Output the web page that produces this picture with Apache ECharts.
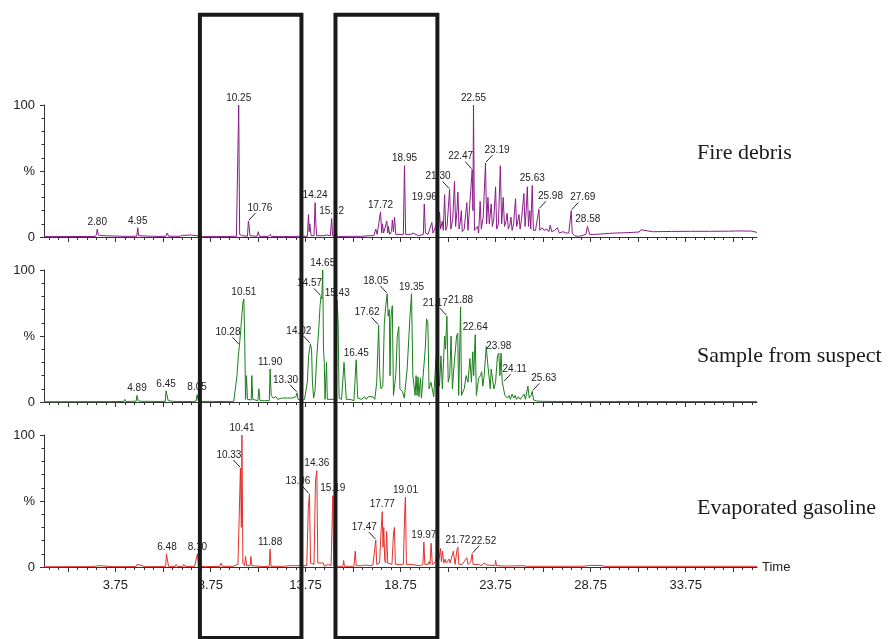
<!DOCTYPE html>
<html>
<head>
<meta charset="utf-8">
<script src="https://cdn.jsdelivr.net/npm/echarts@6/dist/echarts.min.js"></script>
<style>
html,body{margin:0;padding:0;background:#fff;}
#chart{width:889px;height:639px;}
</style>
</head>
<body>
<div id="chart"></div>
<script>
// ---------------- DATA ----------------
const panelNames = ["Fire debris", "Sample from suspect", "Evaporated gasoline"];
const yTickLabels = {0: "0", 50: "%", 100: "100"};
const xLabelTicks = [3.75, 8.75, 13.75, 18.75, 23.75, 28.75, 33.75];
const xMajorTicks = [1.25, 3.75, 6.25, 8.75, 11.25, 13.75, 16.25, 18.75, 21.25, 23.75, 26.25, 28.75, 31.25, 33.75, 36.25];
const boxRanges = [[8.2, 13.54], [15.33, 20.69]];

// chromatogram traces: [retention time (min), relative intensity (%)]
const fireDebris = [
[0,0.3],[2.70,0.4],[2.76,2],[2.80,6],[2.86,1.5],[2.95,0.5],[3.05,1],[3.1,0.4],
[4.3,0.5],[4.4,1],[4.5,0.5],[4.88,0.6],[4.93,7],[4.98,1],[5.05,0.4],[5.55,0.6],[5.63,2],[5.70,0.6],
[6.0,0.4],[6.4,0.5],[6.48,3],[6.55,0.6],[6.9,0.5],[7.0,1.5],[7.1,0.5],[7.3,1.2],[7.4,0.4],[7.7,1.5],[7.8,0.4],
[8.4,0.4],[8.95,0.5],[9.0,2],[9.08,0.4],[9.6,0.4],[10.0,0.5],[10.05,1.5],[10.12,0.5],[10.2,1],
[10.24,100],[10.29,2],[10.4,1],[10.45,2],[10.5,0.5],[10.7,0.6],[10.75,12],[10.79,8],[10.83,1],
[11.2,0.5],[11.27,4],[11.33,0.5],[11.8,0.4],[11.9,2],[11.96,0.4],[12.4,0.4],[12.5,1],[12.55,0.3],
[12.9,0.4],[13.0,0.8],[13.1,0.4],[13.4,0.6],[13.5,0.3],[13.85,0.5],[13.91,17],[13.95,4],[13.98,10],
[14.05,1],[14.2,1],[14.26,26],[14.3,10],[14.34,1],[14.7,1],[14.8,2.5],[14.9,1.5],[15.0,3],[15.06,1],
[15.13,14],[15.18,1],[15.5,0.4],[16.1,0.5],[16.14,2],[16.2,0.5],[16.7,0.5],[16.74,2],[16.8,1],
[17.1,1],[17.2,2],[17.35,1],[17.45,6],[17.52,2],[17.6,2],[17.7,19],[17.76,3],[17.8,10],[17.86,3],
[17.95,4],[18.03,12],[18.08,3],[18.12,8],[18.18,2],[18.28,4],[18.32,13],[18.38,4],[18.44,15],[18.5,2],
[18.9,2],[18.96,54],[19.02,2],[19.3,2],[19.41,3],[19.5,2],[19.7,1],[19.95,2],[20.0,25],[20.06,3],
[20.2,2],[20.3,3],[20.4,11],[20.46,3],[20.55,6],[20.65,10],[20.75,4],[20.8,19],[20.86,6],[20.95,12],
[21.0,5],[21.07,32],[21.13,5],[21.2,8],[21.33,36],[21.4,6],[21.5,14],[21.59,42],[21.65,8],[21.72,20],
[21.77,34],[21.83,6],[21.9,12],[21.95,20],[22.0,4],[22.1,6],[22.24,26],[22.3,5],[22.4,4],[22.52,51],
[22.56,20],[22.59,100],[22.64,5],[22.72,4],[22.8,8],[22.86,3],[22.94,27],[23.0,6],[23.1,15],[23.22,56],
[23.28,10],[23.35,30],[23.42,10],[23.52,25],[23.58,8],[23.66,14],[23.75,38],[23.81,6],[23.9,10],
[24.0,54],[24.07,10],[24.15,30],[24.22,8],[24.3,12],[24.36,18],[24.42,6],[24.5,9],[24.56,15],[24.62,5],
[24.7,10],[24.8,29],[24.86,8],[24.92,12],[24.98,17],[25.04,6],[25.12,14],[25.24,33],[25.3,8],[25.36,20],
[25.42,38],[25.48,8],[25.55,20],[25.6,6],[25.68,39],[25.74,5],[25.85,5],[25.95,6],[26.03,21],[26.08,5],
[26.2,7],[26.3,5],[26.45,6],[26.55,4],[26.63,9],[26.7,4],[26.85,5],[27.0,7],[27.1,3],[27.3,4],[27.45,3],
[27.6,3],[27.68,1.5],[27.73,20],[27.78,3],[27.9,1],[28.1,0.5],[28.3,1],[28.5,2],[28.58,8],[28.64,8],
[28.7,2],[29.0,2],[29.5,2.5],[30.0,3],[30.5,3.2],[31.0,3.5],[31.3,3.8],[31.4,5.5],[31.5,4],[32.0,4],
[33.0,4.2],[34.0,4.3],[35.0,4.3],[36.0,4.4],[36.5,4.6],[36.8,4.5],[37.2,4.5],[37.5,3.5]
];
const suspectSample = [
[0,0.2],[3.5,0.3],[4.2,0.4],[4.25,2],[4.3,0.4],[4.6,0.5],[4.85,0.6],[4.89,5],[4.95,1],[5.1,0.5],
[5.2,1.5],[5.28,0.5],[5.6,0.5],[6.0,0.4],[6.38,0.5],[6.42,8.5],[6.48,8],[6.53,1],[6.8,0.5],[6.88,1.5],
[6.95,0.4],[7.1,0.4],[7.2,1],[7.3,0.4],[7.8,0.4],[8.0,0.6],[8.05,5.5],[8.12,1],[8.3,0.4],[8.8,0.5],
[8.85,1.5],[8.92,0.4],[9.8,0.4],[9.9,1.5],[9.98,0.5],[10.05,1],[10.15,20],[10.22,35],[10.28,43],
[10.35,55],[10.42,68],[10.47,76],[10.51,78],[10.56,45],[10.6,2],[10.65,20],[10.7,2],[10.9,1.5],
[10.93,20],[10.98,2],[11.25,1],[11.3,10],[11.36,1],[11.6,1],[11.85,1],[11.89,25],[11.95,5],[12.05,3],
[12.2,4],[12.3,2],[12.5,3],[12.6,1.5],[12.8,3],[12.9,2],[13.05,3],[13.15,2],[13.25,4],[13.31,7],
[13.36,2],[13.55,1],[13.7,2],[13.85,15],[13.92,35],[14.01,44],[14.07,40],[14.12,15],[14.18,3],
[14.25,8],[14.35,35],[14.45,55],[14.52,73],[14.57,80],[14.61,78],[14.66,100],[14.7,40],[14.74,30],
[14.78,2],[14.86,30],[14.9,2],[15.0,2],[15.2,2],[15.35,3],[15.42,77],[15.47,60],[15.52,3],[15.65,2],
[15.78,30],[15.85,30],[15.9,2],[16.1,2],[16.3,1],[16.42,32],[16.5,3],[16.7,2],[16.85,4],[16.95,2],
[17.05,4],[17.15,3],[17.3,4],[17.4,2],[17.5,15],[17.6,58],[17.66,20],[17.72,10],[17.82,12],[17.9,60],
[17.97,72],[18.05,82],[18.1,65],[18.16,70],[18.2,20],[18.25,65],[18.32,73],[18.38,5],[18.5,20],
[18.58,50],[18.66,57],[18.72,10],[18.85,8],[18.95,3],[19.1,25],[19.25,65],[19.33,82],[19.4,20],
[19.47,20],[19.52,5],[19.57,20],[19.62,5],[19.67,19],[19.72,4],[19.8,18],[19.85,3],[19.95,2],
[20.05,40],[20.12,63],[20.19,60],[20.25,10],[20.35,15],[20.45,15],[20.5,4],[20.62,34],[20.7,30],
[20.8,12],[20.88,35],[20.95,10],[21.07,50],[21.12,40],[21.19,65],[21.26,15],[21.34,20],[21.41,50],
[21.48,10],[21.58,30],[21.7,50],[21.76,52],[21.81,5],[21.91,72],[21.96,5],[22.1,10],[22.2,20],
[22.3,15],[22.4,33],[22.48,15],[22.55,38],[22.6,20],[22.68,51],[22.74,5],[22.86,18],[22.96,20],
[23.02,23],[23.08,12],[23.15,20],[23.26,42],[23.33,30],[23.4,30],[23.47,10],[23.52,25],[23.59,25],
[23.66,10],[23.75,15],[23.85,35],[23.92,37],[23.98,20],[24.04,37],[24.1,15],[24.17,15],[24.24,5],
[24.32,6],[24.38,3],[24.46,5],[24.53,2],[24.62,6],[24.7,3],[24.78,5],[24.85,2],[24.95,4],[25.05,2],
[25.15,4],[25.25,6],[25.32,2],[25.45,12],[25.52,3],[25.62,5],[25.68,8],[25.75,1.5],[25.9,0.8],
[26.2,0.5],[27.0,0.4],[28.5,0.3],[29.0,0.5],[29.3,0.4],[30.0,0.4],[37.5,0.3]
];
const evaporatedGasoline = [
[0,0.2],[2.5,0.3],[2.9,1],[2.95,0.3],[3.6,0.3],[3.7,1],[3.75,0.3],[4.1,0.3],[4.2,1],[4.28,0.3],
[4.85,0.3],[4.9,2],[4.98,0.5],[5.3,0.4],[5.35,1],[5.45,0.3],[6.4,0.3],[6.44,10],[6.5,10],[6.55,0.5],
[6.9,0.4],[6.95,2],[7.02,0.4],[7.3,0.4],[7.35,2],[7.42,0.4],[7.8,0.5],[7.85,1.5],[7.92,0.4],[8.02,0.4],
[8.07,10],[8.12,0.5],[8.5,0.3],[9.25,0.5],[9.32,3],[9.38,0.5],[9.95,0.5],[10.0,2],[10.05,0.5],[10.2,2],
[10.27,40],[10.33,75],[10.38,30],[10.41,100],[10.46,3],[10.55,1],[10.6,8],[10.66,1],[10.84,1],
[10.88,8],[10.93,1],[11.5,0.4],[11.85,0.5],[11.89,13.6],[11.94,0.5],[12.3,0.5],[12.4,1],[12.6,0.5],
[12.9,1],[13.0,0.5],[13.2,1],[13.3,0.5],[13.5,1],[13.6,0.5],[13.82,1],[13.9,45],[13.96,55],[14.02,3],
[14.2,2],[14.28,65],[14.35,73],[14.4,3],[14.5,2],[14.7,3],[14.74,0.5],[14.95,2],[15.0,0.5],[15.1,1],
[15.19,54],[15.24,1],[15.5,0.5],[15.72,0.5],[15.76,5],[15.8,0.5],[16.3,0.5],[16.37,12],[16.42,1],
[16.7,1],[16.9,1.5],[17.1,1],[17.3,1.5],[17.4,1],[17.45,20.5],[17.5,2],[17.65,3],[17.72,25],[17.79,42],
[17.83,15],[17.87,30],[17.92,5],[17.97,3],[18.02,27],[18.08,3],[18.3,2],[18.38,25],[18.43,30],
[18.48,2],[18.9,2],[18.98,45],[19.01,53],[19.06,2],[19.3,2],[19.4,2],[19.5,1.5],[19.8,1],[19.93,2],
[19.98,19],[20.03,2],[20.2,2],[20.25,4],[20.3,2],[20.36,18],[20.42,2],[20.6,4],[20.67,14],[20.72,3],
[20.8,8],[20.86,14],[20.9,4],[20.96,12],[21.02,3],[21.1,6],[21.15,3],[21.3,6],[21.36,3],[21.53,12],
[21.58,13],[21.62,2],[21.72,13],[21.77,15],[21.82,2],[22.0,2],[22.24,7],[22.3,2],[22.45,4],[22.52,10],
[22.57,2],[22.72,2],[22.78,3],[22.85,2],[22.94,3],[23.0,1],[23.15,3],[23.2,2],[23.3,1.5],[23.72,1],
[23.75,5],[23.8,1],[24.2,0.7],[24.6,0.8],[25.2,1],[25.4,0.5],[26.5,0.5],[28.4,0.6],[28.7,1.2],
[29.3,1.2],[29.5,0.5],[37.5,0.5]
];

// peak annotations: [time, intensity, label text]
const fireDebrisPeaks = [
[2.80,6,"2.80"],[4.93,7,"4.95"],[10.24,100,"10.25"],[10.75,12,"10.76"],[14.26,26,"14.24"],
[15.13,14,"15.12"],[17.70,19,"17.72"],[18.96,54,"18.95"],[20.0,25,"19.96"],[21.33,36,"21.30"],
[22.52,51,"22.47"],[22.59,100,"22.55"],[23.22,56,"23.19"],[25.68,39,"25.63"],[26.03,21,"25.98"],
[27.73,20,"27.69"],[28.6,8,"28.58"]
];
const suspectPeaks = [
[4.89,5,"4.89"],[6.42,8.5,"6.45"],[8.05,5.5,"8.05"],[10.28,43,"10.28"],[10.51,78,"10.51"],
[11.89,25,"11.90"],[13.31,7,"13.30"],[14.01,44,"14.02"],[14.57,80,"14.57"],[14.66,100,"14.65"],
[15.42,77,"15.43"],[16.42,32,"16.45"],[17.6,58,"17.62"],[18.05,82,"18.05"],[19.33,82,"19.35"],
[21.19,65,"21.17"],[21.91,72,"21.88"],[22.68,51,"22.64"],[23.92,37,"23.98"],[24.17,15,"24.11"],
[25.68,8,"25.63"]
];
const gasolinePeaks = [
[6.47,10,"6.48"],[8.07,10,"8.10"],[10.33,75,"10.33"],[10.41,100,"10.41"],[11.89,13.6,"11.88"],
[13.96,55,"13.96"],[14.35,73,"14.36"],[15.19,54,"15.19"],[17.45,20.5,"17.47"],[17.79,42,"17.77"],
[19.01,53,"19.01"],[19.98,19,"19.97"],[21.77,15,"21.72"],[22.52,10,"22.52"]
];

// ---------------- STYLE ----------------
const traceColors = ["#8B1C8B", "#1B7F1B", "#E4322B"];
// leader-line direction per label (ul = label up-left, ur = label up-right)
const leaderStyle = [
  {"10.76":"ur","21.30":"ul","22.47":"ul","23.19":"ur","25.98":"ur","27.69":"ur"},
  {"10.28":"ul","13.30":"ul","14.02":"ul","14.57":"ul","17.62":"ul","18.05":"ul","21.17":"ul","24.11":"ur","25.63":"ur"},
  {"10.33":"ul","13.96":"ul","17.47":"ul","22.52":"ur"}
];
const gridTops = [105, 270, 435];
const gridH = 132;
const gridLeft = 44, gridRight = 132;
const SANS = "'Liberation Sans', Arial, sans-serif";
const SERIF = "'Liberation Serif', 'Times New Roman', serif";
const axisColor = "#333";
const textColor = "#222";

const minorTicks = [];
for (let v = 0.25; v < 37.5; v += 0.5) minorTicks.push(+v.toFixed(2));

const traces = [fireDebris, suspectSample, evaporatedGasoline];
const peakSets = [fireDebrisPeaks, suspectPeaks, gasolinePeaks];

const grids = [], xAxes = [], yAxes = [], series = [];
for (let g = 0; g < 3; g++) {
  grids.push({left: gridLeft, right: gridRight, top: gridTops[g], height: gridH, containLabel: false});
  const last = g === 2;
  xAxes.push({
    type: 'value', gridIndex: g, min: 0, max: 37.5, position: 'bottom',
    axisLine: {show: true, onZero: false, lineStyle: {color: axisColor, width: 1}},
    axisTick: {show: true, customValues: xMajorTicks, length: 5, lineStyle: {color: axisColor}},
    axisLabel: {show: last, customValues: xLabelTicks, formatter: v => v.toFixed(2),
      fontFamily: SANS, fontSize: 13, color: textColor, margin: 12},
    splitLine: {show: false},
    name: last ? 'Time' : '', nameLocation: 'end', nameGap: 5,
    nameTextStyle: {fontFamily: SANS, fontSize: 13, color: textColor}
  });
  xAxes.push({
    type: 'value', gridIndex: g, min: 0, max: 37.5, position: 'bottom',
    axisLine: {show: false, onZero: false},
    axisTick: {show: true, customValues: minorTicks, length: 3, lineStyle: {color: axisColor}},
    axisLabel: {show: false}, splitLine: {show: false}
  });
  yAxes.push({
    type: 'value', gridIndex: g, min: 0, max: 100, interval: 50,
    axisLine: {show: true, onZero: false, lineStyle: {color: axisColor, width: 1}},
    axisTick: {show: true, length: 4, lineStyle: {color: axisColor}},
    minorTick: {show: true, splitNumber: 5, length: 2.5, lineStyle: {color: axisColor}},
    axisLabel: {formatter: v => yTickLabels[v] !== undefined ? yTickLabels[v] : '',
      fontFamily: SANS, fontSize: 13, color: textColor, margin: 9},
    splitLine: {show: false}
  });
  series.push({
    type: 'line', xAxisIndex: g * 2, yAxisIndex: g, data: traces[g],
    showSymbol: false, symbol: 'none', smooth: false, clip: false,
    lineStyle: {color: traceColors[g], width: 1}, z: 3, silent: true
  });
  const peaks = peakSets[g];
  const lead = leaderStyle[g];
  series.push({
    type: 'custom', xAxisIndex: g * 2, yAxisIndex: g,
    data: peaks.map(p => [p[0], p[1]]), clip: false, silent: true, z: 4,
    renderItem: function (params, api) {
      const p = peaks[params.dataIndex];
      const pt = api.coord([api.value(0), api.value(1)]);
      const dir = lead[p[2]];
      const font = {fontFamily: SANS, fontSize: 10, fill: textColor};
      if (!dir) {
        return {type: 'text', style: Object.assign({text: p[2], x: pt[0], y: pt[1] - 2,
          align: 'center', verticalAlign: 'bottom'}, font)};
      }
      const s = dir === 'ur' ? 1 : -1;
      return {type: 'group', children: [
        {type: 'line', shape: {x1: pt[0] + s * 0.5, y1: pt[1] - 1, x2: pt[0] + s * 7, y2: pt[1] - 8},
         style: {stroke: textColor, lineWidth: 1}},
        {type: 'text', style: Object.assign({text: p[2], x: pt[0] - s * 1, y: pt[1] - 8,
          align: s > 0 ? 'left' : 'right', verticalAlign: 'bottom'}, font)}
      ]};
    }
  });
}

const chart = echarts.init(document.getElementById('chart'), null, {renderer: 'canvas'});
chart.setOption({
  animation: false,
  backgroundColor: '#fff',
  grid: grids, xAxis: xAxes, yAxis: yAxes, series: series
});

const titleY = [153.5, 356.5, 508.5];
const graphics = panelNames.map((t, i) => ({
  type: 'text', left: 697, top: titleY[i] - 11,
  style: {text: t, fontFamily: SERIF, fontSize: 22, fill: '#1a1a1a'}
}));
boxRanges.forEach(r => {
  const x1 = chart.convertToPixel({xAxisIndex: 0}, r[0]);
  const x2 = chart.convertToPixel({xAxisIndex: 0}, r[1]);
  graphics.push({type: 'rect', z: 100,
    shape: {x: x1, y: 14.7, width: x2 - x1, height: 623.3},
    style: {fill: 'none', stroke: '#1a1a1a', lineWidth: 4}});
});
chart.setOption({graphic: graphics});
</script>
</body>
</html>
